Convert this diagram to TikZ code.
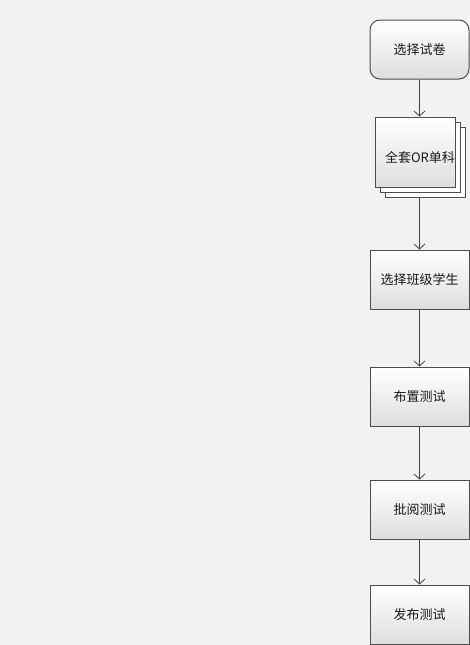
\documentclass[tikz,border=0pt]{standalone}
\usepackage{fontspec}
\setmainfont{Noto Sans CJK SC}
\usetikzlibrary{arrows.meta}

\begin{document}
\begin{tikzpicture}[x=1pt, y=-1pt]
\tikzset{
	stepbox/.style = {
		draw=black!70, line width=1pt,
		minimum width=99pt, minimum height=59pt,
		inner sep=0pt,
		top color=white, bottom color=black!13,
		text=black!90, font=\fontsize{13}{15}\selectfont
	},
	startbox/.style = {
		stepbox, rounded corners=10pt
	},
	sheet/.style = {
		draw=black!70, line width=1pt, fill=white,
		minimum width=80pt, minimum height=70pt,
		inner sep=0pt
	},
	every edge/.style={
		draw=black!75, line width=0.8pt,
		-{Straight Barb[length=5pt, width=11pt]}
	},
}

% background
\fill[black!5] (0,0) rectangle (470,645);
\useasboundingbox (0,0) rectangle (470,645);

% manual labor
\node [startbox] (s1) at (419.5, 49.5) {选择试卷};

\node [sheet] (s2c) at (425, 162) {};
\node [sheet] (s2b) at (420, 157) {};
\node [sheet, top color=white, bottom color=black!13] (s2a) at (415, 152) {};
\node [text=black!90, font=\fontsize{13}{15}\selectfont] (s2) at (420, 157) {全套OR单科};

% draw the steps
\foreach \i/\y/\t in {3/279.5/选择班级学生, 4/396.5/布置测试, 5/509.5/批阅测试, 6/614.5/发布测试}
{
  \node[stepbox] (s\i) at (419.5, \y) {\t};
}

% attach them
\path (s1.south) edge (s1.south |- s2a.north);
\path (s1.south |- s2c.south) edge (s3.north);
\foreach \i/\v in {3/4, 4/5, 5/6}{
  \path (s\i) edge (s\v);
}

\end{tikzpicture}
\end{document}
